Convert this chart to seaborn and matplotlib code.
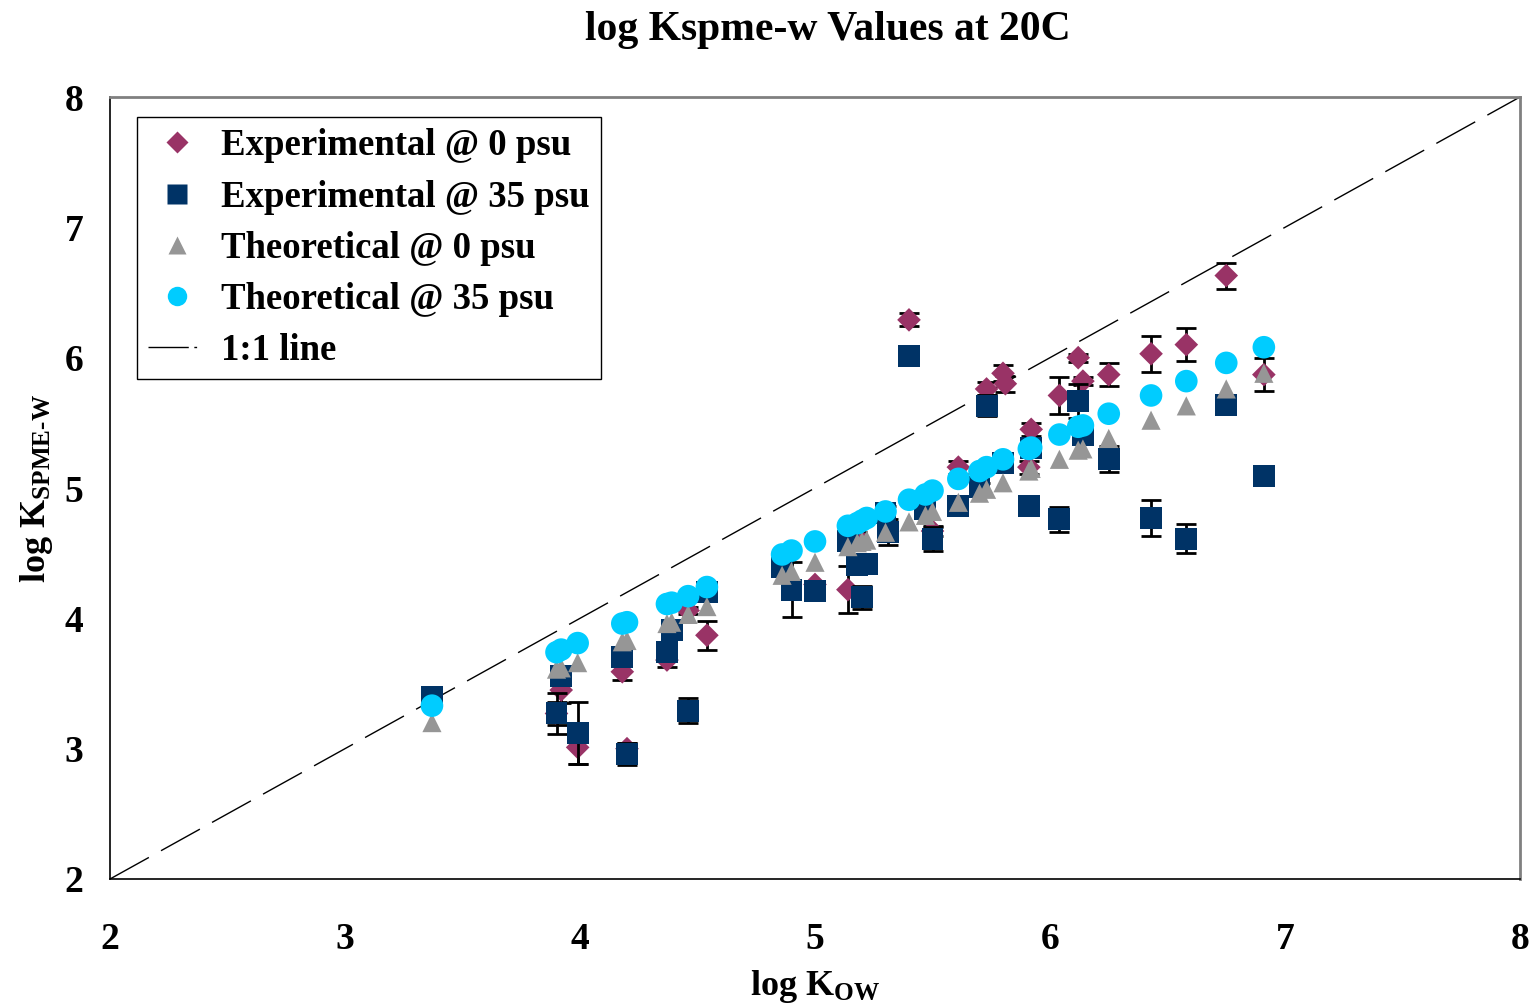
import numpy as np
import pandas as pd
import matplotlib
matplotlib.use("Agg")
import matplotlib.pyplot as plt
from matplotlib.lines import Line2D
import seaborn as sns

# ---------------- data ----------------
log_kow = [3.37, 3.90, 3.92, 3.99, 4.18, 4.20, 4.37, 4.39, 4.46, 4.54,
           4.86, 4.90, 5.00, 5.14, 5.18, 5.20, 5.22, 5.30, 5.31, 5.40,
           5.47, 5.50, 5.61, 5.70, 5.73, 5.80, 5.81, 5.91, 5.92, 6.04,
           6.12, 6.14, 6.25, 6.43, 6.58, 6.75, 6.91]
nan = np.nan
exp_0psu = [nan, 3.27, 3.45, 3.01, 3.59, 3.00, 3.68, nan, 4.06, 3.87,
            nan, nan, 4.26, 4.22, 4.62, nan, nan, nan, nan, 6.29,
            nan, 4.67, 5.16, nan, 5.76, 5.88, 5.80, 5.16, 5.45, 5.71,
            6.00, 5.82, 5.87, 6.03, 6.10, 6.63, 5.87]
exp_0psu_err = [0, 0.09, 0.10, 0.13, 0.06, 0.04, 0.05, 0, 0.03, 0.11,
                0, 0, 0.03, 0.18, 0.04, 0, 0, 0, 0, 0.05,
                0, 0.04, 0.05, 0, 0.05, 0.06, 0.06, 0.05, 0.05, 0.14,
                0.03, 0.03, 0.09, 0.14, 0.125, 0.10, 0.125]
exp_35psu = [3.40, 3.27, 3.56, 3.12, 3.70, 2.96, 3.74, 3.91, 3.29, 4.20,
             4.39, 4.22, 4.21, 4.59, 4.41, 4.16, 4.42, 4.81, 4.66, 6.01,
             4.84, 4.61, 4.86, 5.01, 5.63, 5.19, nan, 4.86, 5.31, 4.76,
             5.67, 5.41, 5.22, 4.77, 4.61, 5.64, 5.09]
exp_35psu_err = [0.02, 0.16, 0.03, 0.24, 0.03, 0.085, 0.05, 0.05, 0.095, 0.03,
                 0.03, 0.21, 0.02, 0.03, 0.06, 0.09, 0.03, 0.05, 0.10, 0.07,
                 0.03, 0.09, 0.02, 0.03, 0.08, 0.03, 0, 0.02, 0.03, 0.095,
                 0.13, 0.03, 0.10, 0.135, 0.11, 0.06, 0.0]
theo_0psu = [3.20, 3.61, 3.62, 3.66, 3.82, 3.83, 3.96, 3.97, 4.03, 4.09,
             4.33, 4.36, 4.43, 4.55, 4.58, 4.59, 4.60, 4.66, nan, 4.74,
             4.79, 4.82, 4.89, 4.96, 4.99, 5.04, nan, 5.13, 5.15, 5.22,
             5.29, 5.30, 5.38, 5.52, 5.63, 5.76, 5.88]
theo_35psu = [3.33, 3.74, 3.76, 3.81, 3.96, 3.97, 4.11, 4.12, 4.17, 4.24,
              4.49, 4.52, 4.59, 4.71, 4.73, 4.75, 4.77, 4.82, nan, 4.91,
              4.95, 4.98, 5.07, 5.13, 5.16, 5.22, nan, 5.30, 5.31, 5.41,
              5.47, 5.48, 5.57, 5.71, 5.82, 5.96, 6.08]
line_11 = [2, 8]

series_labels = ["Experimental @ 0 psu", "Experimental @ 35 psu",
                 "Theoretical @ 0 psu", "Theoretical @ 35 psu", "1:1 line"]
x_ticks = [2, 3, 4, 5, 6, 7, 8]
y_ticks = [2, 3, 4, 5, 6, 7, 8]

# ---------------- style ----------------
sns.set_style("white")
plt.rcParams["font.family"] = ["Liberation Serif", "DejaVu Serif"]
plt.rcParams["font.weight"] = "bold"
plt.rcParams["text.color"] = "black"
plt.rcParams["axes.labelcolor"] = "black"
plt.rcParams["xtick.color"] = "black"
plt.rcParams["ytick.color"] = "black"
plt.rcParams["mathtext.fontset"] = "custom"
plt.rcParams["mathtext.rm"] = "Liberation Serif:bold"
plt.rcParams["mathtext.bf"] = "Liberation Serif:bold"
plt.rcParams["mathtext.default"] = "rm"

c_exp0 = "#993366"
c_exp35 = "#003366"
c_th0 = "#969696"
c_th35 = "#00CCFF"

df = pd.DataFrame({
    "kow": log_kow, "exp0": exp_0psu, "exp0_err": exp_0psu_err,
    "exp35": exp_35psu, "exp35_err": exp_35psu_err,
    "th0": theo_0psu, "th35": theo_35psu,
})

fig = plt.figure(figsize=(15.36, 10.08), dpi=100)
ax = fig.add_axes([110 / 1536, 129 / 1008, 1410 / 1536, 782 / 1008])

# 1:1 line
sns.lineplot(x=line_11, y=line_11, ax=ax, color="black", lw=1.0,
             dashes=False, zorder=1)
ax.lines[-1].set_dashes([32, 10])

cap = dict(fmt="none", ecolor="black", elinewidth=2.0, capsize=7, capthick=2.0)

d0 = df.dropna(subset=["exp0"])
ax.errorbar(d0["kow"], d0["exp0"], yerr=d0["exp0_err"], zorder=2, **cap)
sns.scatterplot(data=d0, x="kow", y="exp0", marker="D", color=c_exp0, s=145,
                edgecolor="none", ax=ax, zorder=3, legend=False)

d35 = df.dropna(subset=["exp35"])
ax.errorbar(d35["kow"], d35["exp35"], yerr=d35["exp35_err"], zorder=4, **cap)
sns.scatterplot(data=d35, x="kow", y="exp35", marker="s", color=c_exp35, s=250,
                edgecolor="none", ax=ax, zorder=5, legend=False)

dt = df.dropna(subset=["th0"])
sns.scatterplot(data=dt, x="kow", y="th0", marker="^", color=c_th0, s=190,
                edgecolor="none", ax=ax, zorder=6, legend=False)
sns.scatterplot(data=dt, x="kow", y="th35", marker="o", color=c_th35, s=265,
                edgecolor="none", ax=ax, zorder=7, legend=False)

ax.set_xlim(2, 8)
ax.set_ylim(2, 8)
ax.set_xticks(x_ticks)
ax.set_yticks(y_ticks)
ax.tick_params(axis="both", direction="out", length=7, width=1.2,
               labelsize=27, color="black")
ax.tick_params(axis="x", pad=24)
ax.tick_params(axis="y", pad=12)
for lab in ax.get_xticklabels() + ax.get_yticklabels():
    lab.set_fontweight("bold")

for side in ["left", "bottom"]:
    ax.spines[side].set_color("black")
    ax.spines[side].set_linewidth(1.2)
for side in ["top", "right"]:
    ax.spines[side].set_color("#808080")
    ax.spines[side].set_linewidth(2)

ax.set_xlabel(r"log K$_\mathrm{OW}$", fontsize=26, fontweight="bold", labelpad=8)
ax.set_ylabel(r"log K$_\mathrm{SPME\text{-}W}$", fontsize=26, fontweight="bold", labelpad=7)
fig.text(828 / 1536, 1 - 30 / 1008, "log Kspme-w Values at 20C", fontsize=30,
         fontweight="bold", ha="center", va="center")

handles = [
    Line2D([], [], ls="none", marker="D", color=c_exp0, markersize=11, mec="none"),
    Line2D([], [], ls="none", marker="s", color=c_exp35, markersize=14, mec="none"),
    Line2D([], [], ls="none", marker="^", color=c_th0, markersize=13, mec="none"),
    Line2D([], [], ls="none", marker="o", color=c_th35, markersize=14, mec="none"),
    Line2D([], [], color="black", lw=1.0, dashes=[29, 4, 2, 40]),
]
leg = ax.legend(handles, series_labels, loc="upper left",
                bbox_to_anchor=(0.019, 0.974), borderaxespad=0,
                frameon=True, fancybox=False, framealpha=1,
                edgecolor="black", handlelength=1.6, handletextpad=0.4,
                labelspacing=0.44, borderpad=0.3,
                prop={"weight": "bold", "size": 26.5})
leg.get_frame().set_linewidth(1.0)

fig.savefig("out.png", dpi=100, facecolor="white")
